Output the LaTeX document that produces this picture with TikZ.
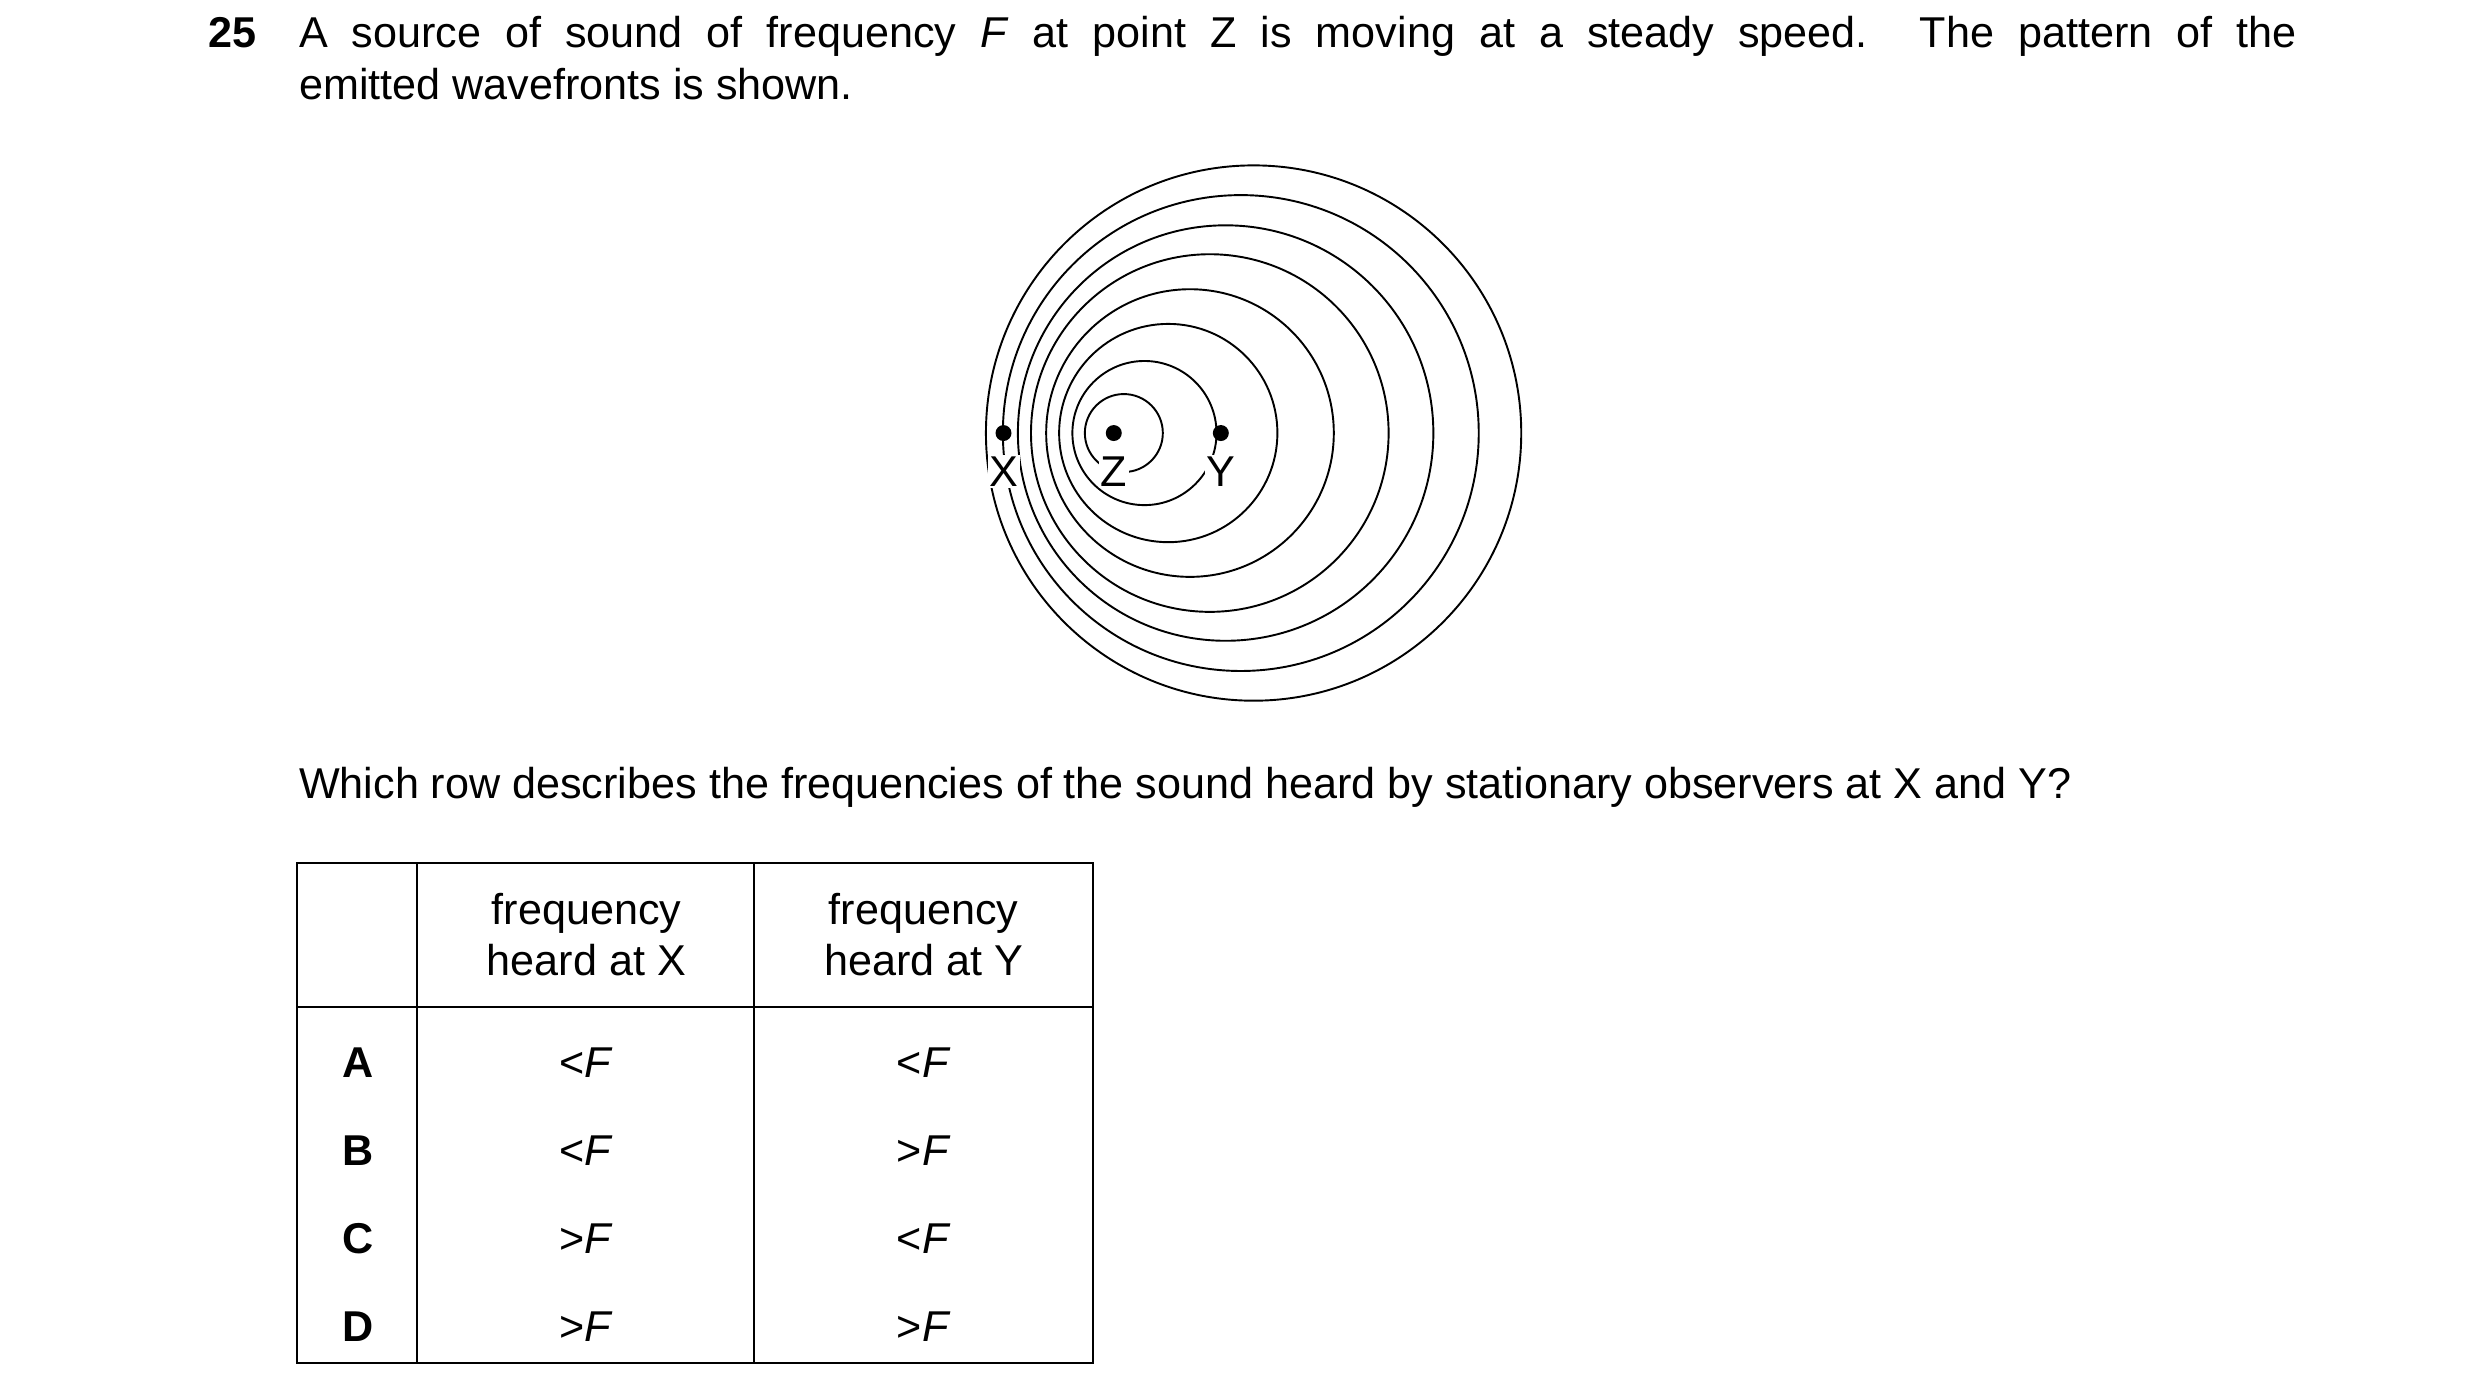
\documentclass[tikz,border=0pt]{standalone}
\usepackage{fontspec}
\setmainfont{Liberation Sans}
\usetikzlibrary{positioning,calc}

\tikzset{
  txt/.style={anchor=base west, inner sep=0pt, font=\fontsize{27}{32}\selectfont},
  wave/.style={line width=1.2pt},
  dot/.style={circle, fill=black, inner sep=0pt, minimum size=10pt},
  ptlabel/.style={fill=white, inner sep=1pt, font=\fontsize{27}{32}\selectfont},
  cell/.style={inner sep=0pt, align=center, font=\fontsize{27}{32}\selectfont},
  rule/.style={line width=1.3pt}
}

\begin{document}
\begin{tikzpicture}[x=1pt,y=-1pt]
				\useasboundingbox (0,0) rectangle (1552,870);

				% Question text
				\node[txt] (num) at (130,30) {\textbf{25}};
				\node[txt] (line1) at (187,30) {\makebox[1250pt][s]{A source of sound of frequency \textit{F} at point Z is moving at a steady speed. The pattern of the}};
				\node[txt] (line2) at (187,62) {emitted wavefronts is shown.};

				% Wavefronts (centre x, radius)
				\foreach \cx/\r in {703.3/24.4, 716.2/45.1, 731.1/68.3, 744.7/90, 757.1/111.9, 767/130, 776.5/148.9, 784.5/167.5}
					\draw[wave] (\cx,271) circle[radius=\r];

				% Observers and source
				\node[ptlabel] (labX) at (628,295) {X};
				\node[ptlabel] (labZ) at (697,295) {Z};
				\node[ptlabel] (labY) at (764,295) {Y};
				\node[dot] (X) at (628,271) {};
				\node[dot] (Z) at (697,271) {};
				\node[dot] (Y) at (764,271) {};

				\node[txt] (ask) at (187,500) {Which row describes the frequencies of the sound heard by stationary observers at X and Y?};

				% Table
				\draw[rule] (186,540) rectangle (684,853);
				\draw[rule] (186,630) -- (684,630);
				\draw[rule] (261,540) -- (261,853);
				\draw[rule] (472,540) -- (472,853);
				\node[cell] (hX) at (367,585) {frequency\\heard at X};
				\node[cell] (hY) at (578,585) {frequency\\heard at Y};
				\foreach \row/\a/\b [count=\i] in {A/</</, B/</>/, C/>/</, D/>/>/}
				{
					\node[cell] (r\row) at (224,{610+55*\i}) {\textbf{\row}};
					\node[cell] (x\row) at (367,{610+55*\i}) {\a\textit{F}};
					\node[cell] (y\row) at (578,{610+55*\i}) {\b\textit{F}};
				}
			\end{tikzpicture}
\end{document}
